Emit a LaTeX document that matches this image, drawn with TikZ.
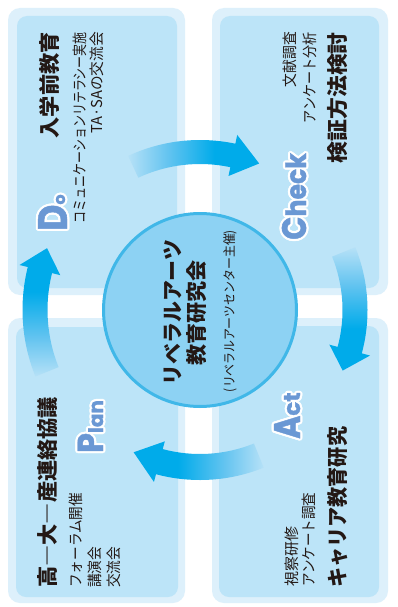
\documentclass[tikz,border=0pt]{standalone}
\usepackage{fontspec}
\usepackage{graphicx}
\usetikzlibrary{calc}
\newfontfamily\jp{Noto Sans CJK JP}
\newfontfamily\lat{Poppins}[BoldFeatures={FakeBold=1.2}]
\definecolor{halo}{RGB}{221,240,251}
\definecolor{pane}{RGB}{188,228,248}
\definecolor{circfill}{RGB}{141,210,243}
\definecolor{circedge}{RGB}{64,183,232}
\definecolor{arrlight}{RGB}{182,225,247}
\definecolor{arrmid}{RGB}{100,196,240}
\definecolor{arrcyan}{RGB}{0,171,234}
\definecolor{letblue}{RGB}{106,152,212}
\definecolor{ink}{RGB}{35,24,21}
\pgfdeclarehorizontalshading{arrfade}{100bp}{color(0bp)=(arrlight); color(25bp)=(arrlight); color(40bp)=(arrmid); color(58bp)=(arrcyan); color(100bp)=(arrcyan)}
\newcommand\fw[2]{\resizebox{#1pt}{\height}{#2}}
\newcommand\cyclearrow[7]{%
  \pgfmathsetmacro\rOut{#1+#2}\pgfmathsetmacro\rIn{#1-#2}%
  \pgfmathsetmacro\rHo{#1+#3}\pgfmathsetmacro\rHi{#1-#3}%
  \shade[shading=arrfade, shading angle=#7]
    ($(hub)+(#4:\rOut)$) arc[start angle=#4, end angle=#5, radius=\rOut]
    -- ($(hub)+(#5:\rHo)$) -- ($(hub)+(#6:#1)$) -- ($(hub)+(#5:\rHi)$)
    -- ($(hub)+(#5:\rIn)$) arc[start angle=#5, end angle=#4, radius=\rIn] -- cycle;}
\newcommand\bigword[3]{%
  \foreach \oa in {0,30,...,330}{\node[bigl, text=white, anchor=base west] at ($#2+(\oa:2.2)$) {#3};}
  \node[bigl, text=letblue, anchor=base west] (#1) at #2 {#3};}
\tikzset{
  halobox/.style={fill=halo, rounded corners=12pt},
  panebox/.style={fill=pane, rounded corners=10pt},
  jtitle/.style={rotate=90, inner sep=0pt, text=ink, font=\jp\bfseries\fontsize{21}{21}\selectfont},
  jsub/.style={rotate=90, inner sep=0pt, text=ink, font=\jp\fontsize{15}{15}\selectfont},
  jsmall/.style={rotate=90, inner sep=0pt, text=ink, font=\jp\fontsize{13}{13}\selectfont},
  bigl/.style={rotate=90, inner sep=0pt, font=\lat\bfseries},
}
\begin{document}
\begin{tikzpicture}[x=1pt,y=-1pt]
\useasboundingbox (0,0) rectangle (398,607);
\fill[white] (0,0) rectangle (398,607);
% panels
\fill[halobox] (8,8) rectangle (185,295);
\fill[panebox] (17,16) rectangle (177,288);
\fill[halobox] (212,8) rectangle (388,295);
\fill[panebox] (220,16) rectangle (379,288);
\fill[halobox] (8,318) rectangle (185,603);
\fill[panebox] (16,327) rectangle (178,597);
\fill[halobox] (212,318) rectangle (388,603);
\fill[panebox] (219,326) rectangle (379,597);
% hub circle
\node[circle, draw=circedge, line width=3pt, fill=circfill, minimum size=193pt, inner sep=0pt] (hub) at (200,310) {};
% cycle arrows
\cyclearrow{158}{12}{21}{245}{282}{292}{0}
\cyclearrow{155}{12.5}{21}{338}{375}{383}{270}
\cyclearrow{157}{13}{21}{68}{105}{115}{180}
\cyclearrow{165}{12.5}{21}{158}{194}{202}{90}
% hub text
\node[jtitle] (hubT1) at (172.5,312.5) {\fw{145}{リベラルアーツ}};
\node[jtitle] (hubT2) at (196.5,312.5) {\fw{105}{教育研究会}};
\node[jsmall] (hubT3) at (230,311) {\fw{162}{(リベラルアーツセンター主催)}};
% Do panel
\node[jtitle, anchor=east] (doT) at (50,32) {\fw{106}{入学前教育}};
\node[jsub, anchor=east] (doS1) at (79.5,32) {\fw{191}{コミュニケーションリテラシー実施}};
\node[jsub, anchor=east] (doS2) at (96.5,32) {\fw{101}{TA·SAの交流会}};
% Check panel
\node[jsub, anchor=east] (chS1) at (290,32) {\fw{55}{文献調査}};
\node[jsub, anchor=east] (chS2) at (309.5,32) {\fw{91}{アンケート分析}};
\node[jtitle, anchor=east] (chT) at (338,32) {\fw{131}{検証方法検討}};
% Plan panel
\node[jtitle, anchor=west] (plT) at (48,588) {\fw{191}{高―大―産連絡協議}};
\node[jsub, anchor=west] (plS1) at (75.5,588) {\fw{95}{フォーラム開催}};
\node[jsub, anchor=west] (plS2) at (95,588) {\fw{41}{講演会}};
\node[jsub, anchor=west] (plS3) at (113.5,588) {\fw{41}{交流会}};
% Act panel
\node[jsub, anchor=west] (acS1) at (291.5,587) {\fw{60}{視察研修}};
\node[jsub, anchor=west] (acS2) at (308.5,587) {\fw{94}{アンケート調査}};
\node[jtitle, anchor=west] (acT) at (337.5,588) {\fw{161}{キャリア教育研究}};
% big PDCA letters
\bigword{doL}{(67,231)}{\scalebox{0.88}[1]{\fontsize{41}{41}\selectfont D}\fontsize{16}{16}\selectfont\raisebox{2pt}{o}}
\bigword{chL}{(306,240)}{\scalebox{0.9}[1]{\fontsize{34}{34}\selectfont C\fontsize{28}{28}\selectfont heck}}
\bigword{plL}{(103,453)}{\scalebox{0.88}[1]{\fontsize{36}{36}\selectfont P}\fontsize{20}{20}\selectfont lan}
\bigword{acL}{(300,439)}{\scalebox{0.85}[1]{\fontsize{37}{37}\selectfont A}\fontsize{23}{23}\selectfont ct}
\end{tikzpicture}
\end{document}
